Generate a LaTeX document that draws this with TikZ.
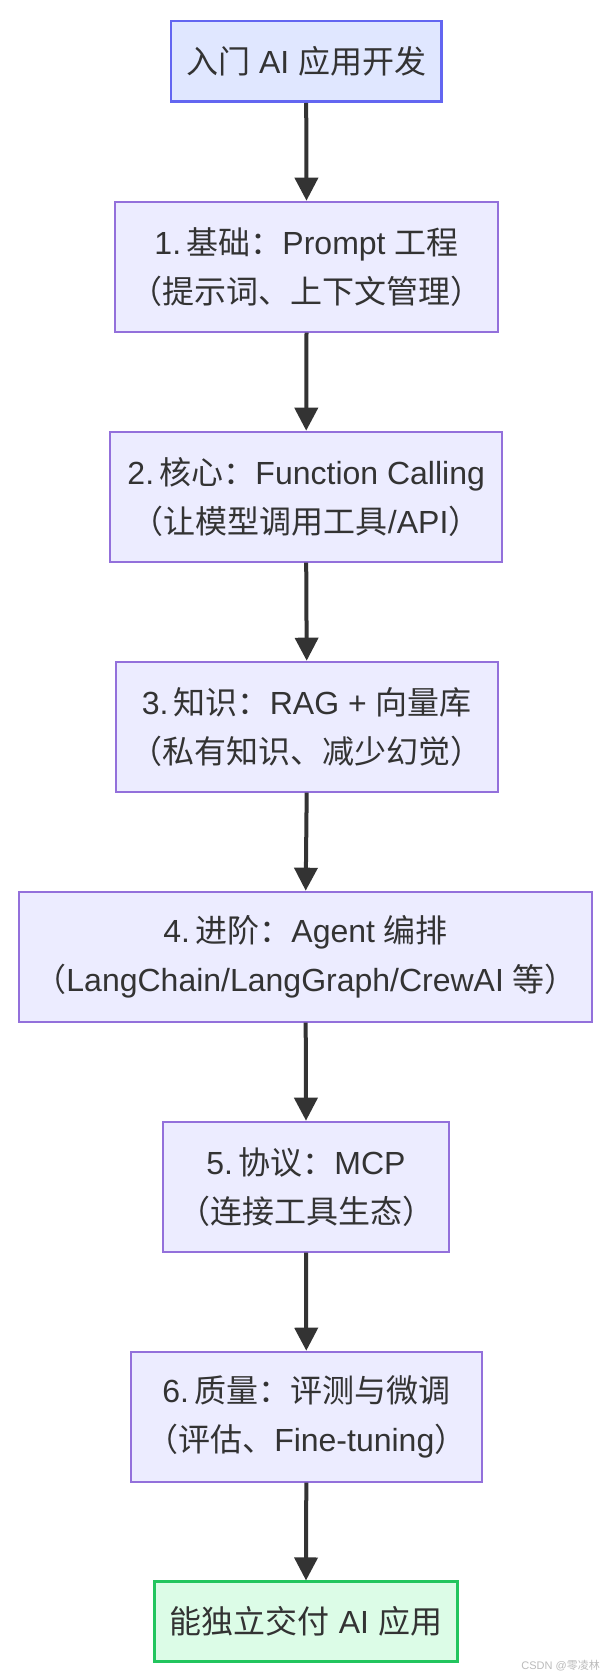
\documentclass[tikz,border=0pt]{standalone}
\usepackage{fontspec}
\setmainfont{Liberation Sans}
\newfontfamily\cjk{Noto Sans CJK SC}
\usetikzlibrary{arrows.meta}
\newcommand\zh[1]{{\cjk #1}}
\definecolor{txt}{HTML}{333333}
\definecolor{midfill}{HTML}{ECECFF}
\definecolor{midline}{HTML}{9370DB}
\definecolor{topfill}{HTML}{E0E7FF}
\definecolor{topline}{HTML}{6366F1}
\definecolor{endfill}{HTML}{DCFCE7}
\definecolor{endline}{HTML}{22C55E}
\definecolor{wm}{HTML}{BBBBBB}
\tikzset{
  box/.style={draw=midline, fill=midfill, line width=2pt, inner sep=0pt,
    align=center, text=txt, font=\fontsize{32}{49}\selectfont},
  startbox/.style={box, draw=topline, fill=topfill, line width=2.5pt},
  endbox/.style={box, draw=endline, fill=endfill, line width=2.5pt},
  flow/.style={draw=txt, line width=4pt, -{Triangle[width=23pt,length=23pt]}}
}
\begin{document}
\begin{tikzpicture}[x=1pt,y=-1pt]
\useasboundingbox (0,0) rectangle (606,1680);
\fill[white] (0,0) rectangle (606,1680);
\node[startbox, minimum width=270.5pt, minimum height=80.7pt] (s) at (306.2,61.4) {\zh{入门} AI \zh{应用开发}};
\node[box, minimum width=382.5pt, minimum height=130pt] (n1) at (306.5,266.7) {1.\,\zh{基础：}Prompt \zh{工程}\\\zh{（提示词、上下文管理）}};
\node[box, minimum width=392.3pt, minimum height=130pt] (n2) at (306.2,496.7) {2.\,\zh{核心：}Function Calling\\\zh{（让模型调用工具}/API\zh{）}};
\node[box, minimum width=382.3pt, minimum height=130pt] (n3) at (306.7,726.7) {3.\,\zh{知识：}RAG + \zh{向量库}\\\zh{（私有知识、减少幻觉）}};
\node[box, minimum width=572.7pt, minimum height=130pt] (n4) at (305.7,956.7) {4.\,\zh{进阶：}Agent \zh{编排}\\\zh{（}LangChain/LangGraph/CrewAI \zh{等）}};
\node[box, minimum width=286.6pt, minimum height=130pt] (n5) at (306,1186.7) {5.\,\zh{协议：}MCP\\\zh{（连接工具生态）}};
\node[box, minimum width=350.7pt, minimum height=130pt] (n6) at (306.3,1416.7) {6.\,\zh{质量：评测与微调}\\\zh{（评估、}Fine-tuning\zh{）}};
\node[endbox, minimum width=303.4pt, minimum height=80pt] (e) at (306,1621.7) {\zh{能独立交付} AI \zh{应用}};
\draw[flow] (s.south) -- (n1.north);
\draw[flow] (n1.south) -- (n2.north);
\draw[flow] (n2.south) -- (n3.north);
\draw[flow] (n3.south) -- (n4.north);
\draw[flow] (n4.south) -- (n5.north);
\draw[flow] (n5.south) -- (n6.north);
\draw[flow] (n6.south) -- (e.north);
\node[anchor=east, inner sep=0pt, text=wm, font=\fontsize{11}{13}\selectfont] (wmk) at (600,1666) {CSDN @\zh{零凌林}};
\end{tikzpicture}
\end{document}
